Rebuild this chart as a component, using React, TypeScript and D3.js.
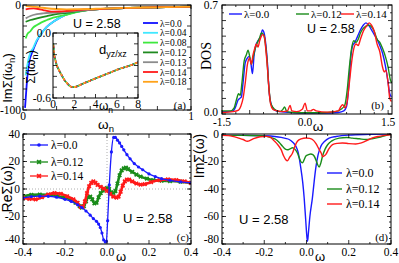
import React from 'react';
import * as d3 from 'd3';

type P = [number, number];

// ---------- Panel (a): Im Sigma(i w_n) ----------
const lambdasA = ['0.0', '0.04', '0.08', '0.12', '0.13', '0.14', '0.18'];
const colorsA = ['#1010ff', '#40e8ff', '#3ee83e', '#1f8a1f', '#8c8c8c', '#ff1a1a', '#ffa31a'];
const matsA_00: P[] = [[0.012,-98],[0.018,-85],[0.025,-70],[0.032,-60],[0.04,-52],[0.05,-47],[0.06,-43],[0.08,-35],[0.11,-27],[0.14,-21],[0.18,-16],[0.22,-12],[0.26,-9],[0.32,-6.5],[0.4,-4.5],[0.5,-3.5],[0.6,-3],[0.7,-2.5],[0.85,-2],[1.0,-1.5]];
const matsA_04: P[] = [[0.016,-67],[0.025,-58],[0.035,-50],[0.045,-45],[0.06,-41],[0.08,-34],[0.11,-27],[0.14,-21],[0.18,-16],[0.22,-12],[0.26,-9],[0.32,-6.5],[0.4,-4.5],[0.5,-3.5],[0.6,-3],[0.7,-2.5],[0.85,-2],[1.0,-1.5]];
const matsA_08: P[] = [[0.016,-32],[0.025,-28],[0.044,-25],[0.06,-21.5],[0.083,-19],[0.11,-16.5],[0.143,-14.3],[0.18,-12],[0.22,-10.5],[0.26,-9.3],[0.32,-6.8],[0.4,-4.6],[0.5,-3.5],[0.6,-3],[0.7,-2.5],[0.85,-2],[1.0,-1.5]];
const matsA_12: P[] = [[0.016,-16],[0.044,-14.3],[0.083,-12.7],[0.143,-10.5],[0.22,-8.2],[0.26,-7.5],[0.32,-6],[0.4,-4.6],[0.5,-3.5],[0.6,-3],[0.7,-2.5],[0.85,-2],[1.0,-1.5]];
const matsA_13: P[] = [[0.016,-12.7],[0.044,-10.5],[0.083,-8.8],[0.12,-8],[0.163,-7.4],[0.22,-7],[0.26,-6.6],[0.32,-5.6],[0.4,-4.6],[0.5,-3.5],[0.6,-3],[0.7,-2.5],[0.85,-2],[1.0,-1.5]];
const matsA_14: P[] = [[0.016,-4.1],[0.04,-3.4],[0.063,-3.2],[0.09,-3.8],[0.12,-4.8],[0.15,-5.8],[0.18,-6.3],[0.22,-6.2],[0.26,-5.7],[0.31,-5],[0.36,-4.3],[0.4,-4.2],[0.5,-3.5],[0.6,-3],[0.7,-2.5],[0.85,-2],[1.0,-1.5]];
const matsA_18: P[] = [[0.016,-1],[0.04,-1.3],[0.063,-1.6],[0.1,-2.3],[0.14,-3.1],[0.2,-3.8],[0.26,-4.1],[0.32,-4],[0.4,-3.8],[0.46,-3.4],[0.6,-2.8],[0.7,-2.4],[0.85,-2],[1.0,-1.5]];
const seriesA = [matsA_00, matsA_04, matsA_08, matsA_12, matsA_13, matsA_14, matsA_18];
// inset: d_yz/xz (all lambda curves coincide)
const insetA: P[] = [[0.03,-0.1],[0.09,-0.185],[0.2,-0.24],[0.35,-0.296],[0.55,-0.34],[0.82,-0.39],[1.05,-0.43],[1.29,-0.46],[1.6,-0.49],[1.92,-0.5],[2.2,-0.495],[2.55,-0.48],[3.0,-0.46],[3.49,-0.44],[4.1,-0.415],[4.75,-0.39],[5.4,-0.365],[6.0,-0.34],[6.6,-0.32],[7.26,-0.3],[8.0,-0.27]];

// ---------- Panel (b): DOS ----------
const lambdasB = ['0.0', '0.12', '0.14'];
const colorsB = ['#1a1aff', '#1a8c1a', '#ff1a1a'];
const dosB_00: P[] = [[-1.5,0.015],[-1.4,0.015],[-1.3,0.02],[-1.25,0.05],[-1.21,0.09],[-1.18,0.1],[-1.15,0.11],[-1.12,0.2],[-1.08,0.33],[-1.04,0.36],[-1.01,0.37],[-0.98,0.33],[-0.95,0.26],[-0.92,0.38],[-0.89,0.44],[-0.85,0.47],[-0.8,0.5],[-0.77,0.54],[-0.74,0.52],[-0.71,0.45],[-0.68,0.33],[-0.65,0.15],[-0.61,0.06],[-0.55,0.025],[-0.45,0.015],[-0.2,0.008],[0,0.006],[0.3,0.006],[0.6,0.01],[0.7,0.02],[0.75,0.05],[0.79,0.18],[0.83,0.38],[0.86,0.44],[0.9,0.46],[0.95,0.5],[1.0,0.54],[1.05,0.57],[1.1,0.585],[1.15,0.57],[1.2,0.54],[1.25,0.51],[1.3,0.48],[1.35,0.44],[1.4,0.39],[1.45,0.31],[1.5,0.2],[1.53,0.13],[1.56,0.11]];
const dosB_12: P[] = [[-1.5,0.02],[-1.35,0.02],[-1.28,0.04],[-1.24,0.09],[-1.2,0.13],[-1.17,0.12],[-1.14,0.2],[-1.1,0.34],[-1.06,0.38],[-1.03,0.41],[-1.0,0.37],[-0.97,0.32],[-0.94,0.36],[-0.9,0.42],[-0.86,0.46],[-0.82,0.49],[-0.79,0.52],[-0.75,0.51],[-0.72,0.46],[-0.69,0.36],[-0.66,0.2],[-0.62,0.07],[-0.55,0.03],[-0.45,0.015],[-0.4,0.03],[-0.37,0.045],[-0.33,0.015],[-0.2,0.01],[0,0.008],[0.3,0.008],[0.55,0.015],[0.65,0.03],[0.72,0.06],[0.76,0.15],[0.8,0.3],[0.84,0.42],[0.88,0.47],[0.92,0.46],[0.96,0.48],[1.0,0.52],[1.05,0.55],[1.1,0.565],[1.15,0.57],[1.2,0.56],[1.25,0.53],[1.3,0.48],[1.35,0.46],[1.4,0.42],[1.45,0.37],[1.5,0.3],[1.54,0.22],[1.57,0.2]];
const dosB_14: P[] = [[-1.5,0.01],[-1.3,0.015],[-1.2,0.025],[-1.16,0.05],[-1.12,0.1],[-1.08,0.2],[-1.04,0.32],[-1.0,0.36],[-0.97,0.32],[-0.94,0.38],[-0.91,0.42],[-0.88,0.45],[-0.85,0.43],[-0.82,0.47],[-0.79,0.5],[-0.76,0.51],[-0.73,0.49],[-0.71,0.42],[-0.68,0.3],[-0.65,0.15],[-0.62,0.06],[-0.58,0.03],[-0.5,0.02],[-0.4,0.015],[-0.32,0.02],[-0.27,0.055],[-0.24,0.02],[-0.15,0.015],[-0.05,0.03],[0.0,0.07],[0.04,0.02],[0.1,0.02],[0.15,0.03],[0.2,0.02],[0.4,0.012],[0.6,0.02],[0.65,0.05],[0.68,0.06],[0.72,0.04],[0.76,0.08],[0.8,0.2],[0.84,0.33],[0.88,0.42],[0.92,0.45],[0.96,0.44],[1.0,0.48],[1.05,0.53],[1.1,0.56],[1.16,0.585],[1.2,0.57],[1.25,0.53],[1.3,0.45],[1.35,0.4],[1.4,0.3],[1.43,0.27],[1.46,0.28],[1.5,0.2],[1.53,0.1],[1.56,0.08]];
const seriesB = [dosB_00, dosB_12, dosB_14];

// ---------- Panel (c): Re Sigma(w) ----------
const reC_00: P[] = [[-0.4,-6.5],[-0.36,-5.5],[-0.32,-5.2],[-0.28,-5.3],[-0.24,-6],[-0.2,-7.5],[-0.17,-9],[-0.14,-11.5],[-0.12,-13.5],[-0.1,-16],[-0.08,-19],[-0.065,-21.5],[-0.05,-23.5],[-0.04,-25.5],[-0.032,-28],[-0.024,-32],[-0.016,-37],[-0.008,-38.5],[-0.003,-38],[0.003,-23],[0.011,3],[0.021,27],[0.032,37.5],[0.04,37.5],[0.05,35.5],[0.06,33.5],[0.07,31],[0.08,28.5],[0.095,25],[0.11,22],[0.13,18.5],[0.15,16],[0.17,14],[0.2,11],[0.23,9],[0.26,7.5],[0.3,6.3],[0.35,5.2],[0.4,4.4]];
const reC_12: P[] = [[-0.4,-5.3],[-0.36,-4.3],[-0.32,-4],[-0.28,-4.2],[-0.24,-5],[-0.2,-6.3],[-0.17,-8],[-0.15,-10],[-0.13,-12.5],[-0.12,-13.5],[-0.11,-12.5],[-0.1,-9],[-0.09,-6],[-0.08,-5.5],[-0.07,-7.5],[-0.06,-10.5],[-0.05,-10],[-0.04,-6],[-0.03,-3],[-0.02,-1.2],[-0.01,0],[0,0.7],[0.01,0],[0.02,-2.5],[0.03,-3],[0.04,-1.5],[0.05,4],[0.06,10],[0.07,13.5],[0.08,15],[0.09,15.5],[0.1,14.5],[0.12,12.5],[0.14,10.5],[0.16,9],[0.19,7.5],[0.22,6.5],[0.26,6],[0.3,5.8],[0.35,5.3],[0.4,4.4]];
const reC_14: P[] = [[-0.4,-6.5],[-0.37,-7.2],[-0.34,-7.5],[-0.31,-6],[-0.28,-4],[-0.25,-3],[-0.22,-3.5],[-0.19,-5.3],[-0.16,-7.5],[-0.14,-10],[-0.125,-13],[-0.115,-13],[-0.105,-9],[-0.095,-3],[-0.085,2],[-0.075,4.5],[-0.065,5.5],[-0.055,4.5],[-0.045,3],[-0.03,1.5],[-0.015,0.3],[0,-1.3],[0.015,-3.5],[0.03,-5.5],[0.045,-6.3],[0.055,-5.5],[0.065,-2],[0.075,2.5],[0.085,5.5],[0.095,6.8],[0.105,6.8],[0.12,5.5],[0.14,4],[0.16,3.2],[0.18,3.5],[0.21,5],[0.25,6.5],[0.29,7],[0.33,6.5],[0.37,5.5],[0.4,4.4]];
const seriesC = [reC_00, reC_12, reC_14];

// ---------- Panel (d): Im Sigma(w) ----------
const imD_00: P[] = [[-0.4,-1],[-0.3,-1],[-0.2,-1.3],[-0.15,-1.8],[-0.12,-2.5],[-0.1,-3.2],[-0.082,-4],[-0.065,-6],[-0.05,-9],[-0.04,-13],[-0.027,-24.7],[-0.018,-35],[-0.011,-46.5],[-0.004,-62],[0.002,-75],[0.005,-78],[0.009,-72],[0.016,-60],[0.028,-46.5],[0.036,-35],[0.044,-24.7],[0.055,-15],[0.068,-9],[0.085,-5.5],[0.107,-3],[0.14,-1.8],[0.2,-0.8],[0.3,-0.3],[0.4,0]];
const imD_12: P[] = [[-0.4,-1],[-0.3,-1],[-0.22,-1.3],[-0.19,-1.7],[-0.16,-3],[-0.145,-4],[-0.13,-6],[-0.113,-9],[-0.1,-11],[-0.09,-11.5],[-0.08,-11],[-0.066,-10],[-0.055,-11],[-0.043,-13.8],[-0.035,-17],[-0.027,-20],[-0.019,-21],[-0.012,-19],[-0.003,-16],[0.01,-15],[0.02,-14.5],[0.03,-15],[0.036,-16],[0.045,-19],[0.052,-22],[0.06,-24],[0.068,-21],[0.076,-16],[0.088,-11],[0.1,-7.8],[0.12,-5],[0.154,-3],[0.19,-2.5],[0.217,-3],[0.25,-3.5],[0.28,-4],[0.31,-3.5],[0.343,-2.5],[0.37,-1.3],[0.4,0]];
const imD_14: P[] = [[-0.4,-1],[-0.37,-1.2],[-0.35,-1.7],[-0.32,-3],[-0.3,-4],[-0.28,-5.3],[-0.265,-4.5],[-0.25,-3.4],[-0.22,-2],[-0.19,-1.7],[-0.17,-2.5],[-0.153,-5],[-0.135,-8],[-0.12,-11.4],[-0.108,-16],[-0.098,-18.7],[-0.09,-19.4],[-0.08,-17],[-0.066,-13.8],[-0.055,-9],[-0.043,-5.3],[-0.025,-3.5],[-0.003,-2.9],[0.015,-3.2],[0.028,-4],[0.045,-7],[0.06,-11.4],[0.07,-14],[0.076,-16.5],[0.083,-16],[0.091,-15],[0.105,-11],[0.123,-7.8],[0.145,-6.8],[0.17,-6.5],[0.2,-7],[0.233,-7.3],[0.26,-6.5],[0.296,-4],[0.32,-2.5],[0.343,-1.7],[0.37,-1],[0.4,-0.5]];
const seriesD = [imD_00, imD_12, imD_14];

const ticksAx = ['0', '1'];
const ticksAy = ['0', '-100'];
const ticksBx = ['-1.5', '0.0', '1.5'];
const ticksBy = ['0.0', '0.7'];
const ticksCx = ['-0.4', '-0.2', '0.0', '0.2', '0.4'];
const ticksCy = ['-40', '-20', '0', '20', '40'];
const ticksDy = ['-80', '-60', '-40', '-20', '0'];
const ticksIx = ['0', '2', '4', '6', '8'];
const ticksIy = ['-0.6', '0.0'];

const SERIF = "'Liberation Serif', 'DejaVu Serif', serif";
const SANS = "'Liberation Sans', Arial, sans-serif";

type Scale = d3.ScaleLinear<number, number>;

function range(a: number, b: number, s: number) {
  const out: number[] = [];
  for (let v = a; v <= b + s * 1e-6; v += s) out.push(+v.toFixed(6));
  return out;
}

function Frame({ x, y, xMaj, xMin, yMaj, yMin, id }: { x: Scale; y: Scale; xMaj: number[]; xMin: number[]; yMaj: number[]; yMin: number[]; id: string }) {
  const [x0, x1] = x.range();
  const [y1, y0] = y.range();
  const els: React.ReactNode[] = [];
  const tk = (v: number, len: number, k: string) => {
    const px = x(v);
    els.push(<line key={k + 'b'} x1={px} x2={px} y1={y1} y2={y1 - len} />);
    els.push(<line key={k + 't'} x1={px} x2={px} y1={y0} y2={y0 + len} />);
  };
  const tky = (v: number, len: number, k: string) => {
    const py = y(v);
    els.push(<line key={k + 'l'} x1={x0} x2={x0 + len} y1={py} y2={py} />);
    els.push(<line key={k + 'r'} x1={x1} x2={x1 - len} y1={py} y2={py} />);
  };
  xMaj.forEach((v, i) => tk(v, 4, id + 'xM' + i));
  xMin.forEach((v, i) => tk(v, 2, id + 'xm' + i));
  yMaj.forEach((v, i) => tky(v, 4, id + 'yM' + i));
  yMin.forEach((v, i) => tky(v, 2, id + 'ym' + i));
  return (
    <g stroke="#000" strokeWidth={0.8} fill="none">
      {els}
      <rect x={x0} y={y0} width={x1 - x0} height={y1 - y0} strokeWidth={1} />
    </g>
  );
}

function lineOf(x: Scale, y: Scale) {
  return d3.line<P>().x(d => x(d[0])).y(d => y(d[1])).curve(d3.curveMonotoneX);
}

export default function App() {
  // scales
  const xA = d3.scaleLinear().domain([0, 1]).range([23, 191]);
  const yA = d3.scaleLinear().domain([-100, 0]).range([110, 5]);
  const xI = d3.scaleLinear().domain([0, 8]).range([53, 138]);
  const yI = d3.scaleLinear().domain([-0.6, 0]).range([98, 33]);
  const xB = d3.scaleLinear().domain([-1.5, 1.57]).range([222, 392]);
  const yB = d3.scaleLinear().domain([0, 0.7]).range([114, 5]);
  const xC = d3.scaleLinear().domain([-0.4, 0.4]).range([23, 191]);
  const yC = d3.scaleLinear().domain([-40, 40]).range([244, 134]);
  const xD = d3.scaleLinear().domain([-0.4, 0.4]).range([222, 391]);
  const yD = d3.scaleLinear().domain([-80, 0]).range([244, 134]);

  const lA = lineOf(xA, yA), lI = lineOf(xI, yI), lB = lineOf(xB, yB), lC = lineOf(xC, yC), lD = lineOf(xD, yD);
  const tickFont = { fontFamily: SERIF, fontSize: 11.5, fill: '#000' } as const;
  const markerC = ['circle', 'star', 'star'];

  return (
    <svg width={399} height={263} style={{ position: 'absolute', left: 0, top: 0, background: '#fff' }}>
      <defs>
        <clipPath id="cA"><rect x={23} y={5} width={168} height={105} /></clipPath>
        <clipPath id="cB"><rect x={222} y={5} width={170} height={109} /></clipPath>
        <clipPath id="cC"><rect x={23} y={134} width={168} height={110} /></clipPath>
        <clipPath id="cD"><rect x={222} y={134} width={169} height={110} /></clipPath>
        <clipPath id="cI"><rect x={53} y={33} width={85} height={65} /></clipPath>
      </defs>

      {/* ---------- (a) ---------- */}
      <g clipPath="url(#cA)">
        {seriesA.map((s, i) => (
          <path key={'a' + i} d={lA(s) || ''} fill="none" stroke={colorsA[i]} strokeWidth={1.8} />
        ))}
      </g>
      <Frame x={xA} y={yA} xMaj={range(0, 1, 0.2)} xMin={range(0.1, 0.9, 0.2)} yMaj={range(-100, 0, 20)} yMin={range(-90, -10, 20)} id="A" />
      {ticksAy.map(t => (
        <text key={'ay' + t} x={21} y={yA(+t) + 3.5} textAnchor="end" {...tickFont}>{t}</text>
      ))}
      {ticksAx.map(t => (
        <text key={'ax' + t} x={xA(+t)} y={120} textAnchor="middle" {...tickFont}>{t}</text>
      ))}
      <text x={106} y={129} textAnchor="middle" fontFamily={SANS} fontSize={13.5}>ω<tspan fontSize={9.5} dy={3}>n</tspan></text>
      <text transform="translate(12,78) rotate(-90)" textAnchor="middle" fontFamily={SANS} fontSize={13}>ImΣ(iω<tspan fontSize={9.5} dy={3}>n</tspan><tspan dy={-3}>)</tspan></text>
      <text x={73} y={28} fontFamily={SANS} fontSize={12.5}>U = 2.58</text>
      {lambdasA.map((l, i) => (
        <g key={'la' + l}>
          <line x1={143} x2={158} y1={23 + i * 9.8} y2={23 + i * 9.8} stroke={colorsA[i]} strokeWidth={1.8} />
          <text x={160} y={26.5 + i * 9.8} fontFamily={SERIF} fontSize={9.5}>λ=<tspan>{l}</tspan></text>
        </g>
      ))}
      <text x={186} y={109} textAnchor="end" fontFamily={SERIF} fontSize={11}>(a)</text>

      {/* inset */}
      <rect x={53} y={33} width={85} height={65} fill="#fff" />
      <g clipPath="url(#cI)">
        {colorsA.map((c, i) => (
          <path key={'i' + i} d={lI(insetA) || ''} fill="none" stroke={c} strokeWidth={1.6} strokeDasharray={i === 0 ? undefined : '2.5 2.5'} strokeDashoffset={i * 0.7} />
        ))}
      </g>
      <Frame x={xI} y={yI} xMaj={range(0, 8, 2)} xMin={range(1, 7, 2)} yMaj={range(-0.6, 0, 0.1)} yMin={[]} id="I" />
      {ticksIy.map(t => (
        <text key={'iy' + t} x={51} y={yI(+t) + 4} textAnchor="end" {...tickFont}>{t}</text>
      ))}
      {ticksIx.map(t => (
        <text key={'ix' + t} x={xI(+t)} y={108} textAnchor="middle" {...tickFont}>{t}</text>
      ))}
      <text x={106} y={110} textAnchor="middle" fontFamily={SANS} fontSize={12}>ω<tspan fontSize={8.5} dy={3}>n</tspan></text>
      <text transform="translate(35,67) rotate(-90)" textAnchor="middle" fontFamily={SANS} fontSize={12.5}>Σ(iω<tspan fontSize={9} dy={3}>n</tspan><tspan dy={-3}>)</tspan></text>
      <text x={99} y={54} fontFamily={SANS} fontSize={13}>d<tspan fontSize={9} dy={3}>yz/xz</tspan></text>

      {/* ---------- (b) ---------- */}
      <g clipPath="url(#cB)">
        {seriesB.map((s, i) => (
          <path key={'b' + i} d={lB(s) || ''} fill="none" stroke={colorsB[i]} strokeWidth={1.4} />
        ))}
      </g>
      <Frame x={xB} y={yB} xMaj={range(-1.5, 1.5, 0.5)} xMin={range(-1.25, 1.5, 0.5)} yMaj={range(0, 0.7, 0.1)} yMin={range(0.05, 0.65, 0.1)} id="B" />
      {ticksBy.map(t => (
        <text key={'by' + t} x={218} y={yB(+t) + (t === '0.0' ? 1.5 : 3.5)} textAnchor="end" {...tickFont}>{t}</text>
      ))}
      {ticksBx.map(t => (
        <text key={'bx' + t} x={xB(+t)} y={126} textAnchor="middle" {...tickFont}>{t}</text>
      ))}
      <text x={318} y={131} textAnchor="middle" fontFamily={SANS} fontSize={13.5}>ω</text>
      <text transform="translate(211,56) rotate(-90)" textAnchor="middle" fontFamily={SERIF} fontSize={14}>DOS</text>
      {lambdasB.map((l, i) => {
        const lx = [229, 296, 341][i];
        return (
          <g key={'lb' + l}>
            <line x1={lx} x2={lx + 13} y1={14} y2={14} stroke={colorsB[i]} strokeWidth={1.4} />
            <text x={lx + 15} y={18} fontFamily={SERIF} fontSize={11}>λ={l}</text>
          </g>
        );
      })}
      <text x={307} y={33} fontFamily={SANS} fontSize={12.5}>U = 2.58</text>
      <text x={384} y={109} textAnchor="end" fontFamily={SERIF} fontSize={11}>(b)</text>

      {/* ---------- (c) ---------- */}
      <line x1={23} x2={191} y1={yC(0)} y2={yC(0)} stroke="#999" strokeWidth={0.8} strokeDasharray="1 2" />
      <line x1={xC(0)} x2={xC(0)} y1={134} y2={244} stroke="#999" strokeWidth={0.8} strokeDasharray="1 2" />
      <g clipPath="url(#cC)">
        {[1, 2, 0].map(i => (
          <g key={'c' + i}>
            <path d={lC(seriesC[i]) || ''} fill="none" stroke={colorsB[i]} strokeWidth={i === 0 ? 1.3 : 2.6} />
            {seriesC[i].map((d, j) => markerC[i] === 'circle'
              ? <circle key={j} cx={xC(d[0])} cy={yC(d[1])} r={1.6} fill={colorsB[i]} />
              : <path key={j} d={d3.symbol(d3.symbolCross, 14)() || ''} transform={`translate(${xC(d[0])},${yC(d[1])}) rotate(45)`} fill={colorsB[i]} />)}
          </g>
        ))}
      </g>
      <Frame x={xC} y={yC} xMaj={range(-0.4, 0.4, 0.2)} xMin={range(-0.3, 0.3, 0.2)} yMaj={range(-40, 40, 20)} yMin={range(-40, 40, 4)} id="C" />
      {ticksCy.map(t => (
        <text key={'cy' + t} x={20} y={yC(+t) + (t === '-40' ? -1 : 3.5)} textAnchor="end" {...tickFont}>{t}</text>
      ))}
      {ticksCx.map(t => (
        <text key={'cx' + t} x={xC(+t)} y={256} textAnchor="middle" {...tickFont}>{t}</text>
      ))}
      <text x={121} y={261} textAnchor="middle" fontFamily={SANS} fontSize={13}>ω</text>
      <text transform="translate(12,189) rotate(-90)" textAnchor="middle" fontFamily={SANS} fontSize={14}>ReΣ(ω)</text>
      {lambdasB.map((l, i) => {
        const ly = [145, 162, 176][i];
        return (
          <g key={'lc' + l}>
            <line x1={30} x2={48} y1={ly} y2={ly} stroke={colorsB[i]} strokeWidth={1.3} />
            {i === 0
              ? <circle cx={39} cy={ly} r={1.8} fill={colorsB[i]} />
              : <path d={d3.symbol(d3.symbolCross, 16)() || ''} transform={`translate(39,${ly}) rotate(45)`} fill={colorsB[i]} />}
            <text x={51} y={ly + 4} fontFamily={SERIF} fontSize={11.5}>λ={l}</text>
          </g>
        );
      })}
      <text x={123} y={223} fontFamily={SANS} fontSize={13}>U = 2.58</text>
      <text x={189} y={241} textAnchor="end" fontFamily={SERIF} fontSize={11}>(c)</text>

      {/* ---------- (d) ---------- */}
      <g clipPath="url(#cD)">
        {seriesD.map((s, i) => (
          <path key={'d' + i} d={lD(s) || ''} fill="none" stroke={colorsB[i]} strokeWidth={1.4} />
        ))}
      </g>
      <Frame x={xD} y={yD} xMaj={range(-0.4, 0.4, 0.2)} xMin={range(-0.3, 0.3, 0.2)} yMaj={range(-80, 0, 20)} yMin={range(-80, 0, 4)} id="D" />
      {ticksDy.map(t => (
        <text key={'dy' + t} x={219} y={yD(+t) + (t === '-80' ? -1 : 3.5)} textAnchor="end" {...tickFont}>{t}</text>
      ))}
      {ticksCx.map(t => (
        <text key={'dx' + t} x={xD(+t)} y={256} textAnchor="middle" {...tickFont}>{t}</text>
      ))}
      <text x={320} y={261} textAnchor="middle" fontFamily={SANS} fontSize={13}>ω</text>
      <text transform="translate(204,156) rotate(-90)" textAnchor="middle" fontFamily={SANS} fontSize={14}>ImΣ(ω)</text>
      {lambdasB.map((l, i) => {
        const ly = [173, 189, 204][i];
        return (
          <g key={'ld' + l}>
            <line x1={327} x2={342} y1={ly} y2={ly} stroke={colorsB[i]} strokeWidth={1.4} />
            <text x={346} y={ly + 4} fontFamily={SERIF} fontSize={12}>λ={l}</text>
          </g>
        );
      })}
      <text x={239} y={224} fontFamily={SANS} fontSize={13}>U = 2.58</text>
      <text x={388} y={241} textAnchor="end" fontFamily={SERIF} fontSize={11}>(d)</text>
    </svg>
  );
}
